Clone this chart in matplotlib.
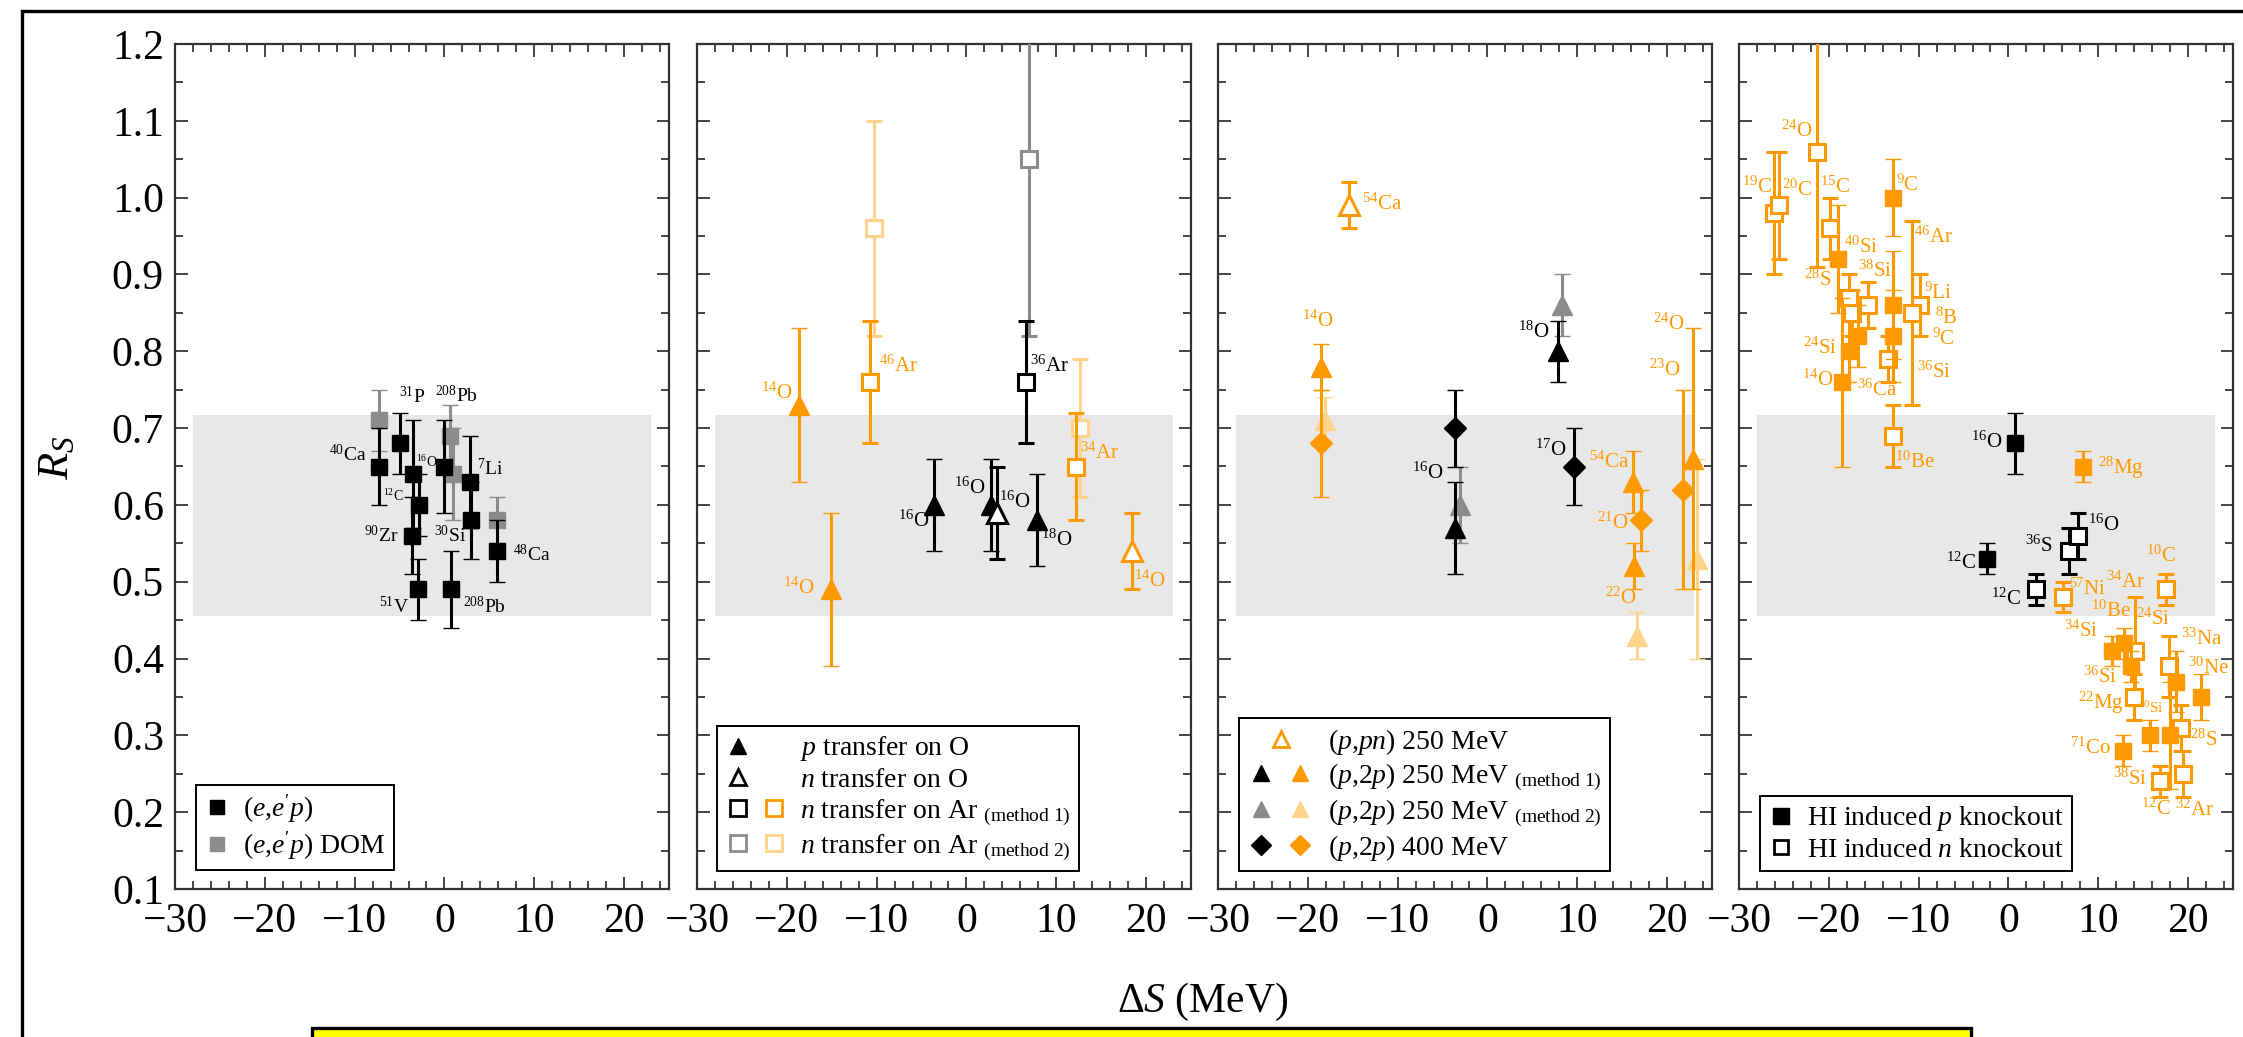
import matplotlib
matplotlib.use("Agg")
import matplotlib.pyplot as plt
from matplotlib.lines import Line2D
from matplotlib.legend_handler import HandlerTuple
from matplotlib.patches import Rectangle
from matplotlib.ticker import MultipleLocator, FormatStrFormatter

plt.rcParams['font.family'] = ['Liberation Serif', 'DejaVu Serif']
plt.rcParams['mathtext.fontset'] = 'custom'
plt.rcParams['mathtext.rm'] = 'Liberation Serif'
plt.rcParams['mathtext.it'] = 'Liberation Serif:italic'
plt.rcParams['mathtext.bf'] = 'Liberation Serif:bold'

BLACK = 'black'
ORANGE = '#FF9900'
LIGHT = '#FFD48A'
GRAY = '#8C8C8C'
BANDC = '#E8E8E8'

XLIM = (-30, 25)
YLIM = (0.1, 1.2)
BAND_X = (-28, 23)
BAND_Y = (0.455, 0.717)
XTICKS = [-30, -20, -10, 0, 10, 20]
YTICKS = [0.1, 0.2, 0.3, 0.4, 0.5, 0.6, 0.7, 0.8, 0.9, 1.0, 1.1, 1.2]

# ---------------- Panel 1 : (e,e'p) ----------------
P1_EEP_X = [-7.3, -5.0, -3.5, -2.8, -3.6, -3.0, -0.1, 0.7, 2.8, 3.0, 5.9]
P1_EEP_Y = [0.65, 0.68, 0.64, 0.60, 0.56, 0.49, 0.65, 0.49, 0.63, 0.58, 0.54]
P1_EEP_E = [0.05, 0.04, 0.07, 0.04, 0.05, 0.04, 0.06, 0.05, 0.06, 0.05, 0.04]
P1_DOM_X = [-7.3, 0.6, 1.0, 5.9]
P1_DOM_Y = [0.71, 0.69, 0.64, 0.58]
P1_DOM_E = [0.04, 0.04, 0.06, 0.03]
P1_LABELS = [("$^{31}$P", -3.6, 0.741, BLACK, 14),
             ("$^{208}$Pb", 1.3, 0.742, BLACK, 14),
             ("$^{40}$Ca", -10.8, 0.666, BLACK, 14),
             ("$^{16}$O", -2.0, 0.656, BLACK, 10),
             ("$^{7}$Li", 5.1, 0.648, BLACK, 14),
             ("$^{12}$C", -5.7, 0.612, BLACK, 10),
             ("$^{90}$Zr", -7.0, 0.560, BLACK, 14),
             ("$^{30}$Si", 0.65, 0.560, BLACK, 14),
             ("$^{48}$Ca", 9.7, 0.535, BLACK, 14),
             ("$^{51}$V", -5.6, 0.468, BLACK, 14),
             ("$^{208}$Pb", 4.5, 0.468, BLACK, 14)]

# ---------------- Panel 2 : transfer ----------------
P2_PO_X = [-3.6, 2.7, 7.8]
P2_PO_Y = [0.60, 0.60, 0.58]
P2_PO_E = [0.06, 0.06, 0.06]
P2_PO_UN_X = [-18.6, -15.1]
P2_PO_UN_Y = [0.73, 0.49]
P2_PO_UN_E = [0.10, 0.10]
P2_NO_X = [3.4]
P2_NO_Y = [0.59]
P2_NO_E = [0.06]
P2_NO_UN_X = [18.4]
P2_NO_UN_Y = [0.54]
P2_NO_UN_E = [0.05]
P2_AR1_X = [6.6]
P2_AR1_Y = [0.76]
P2_AR1_E = [0.08]
P2_AR1_UN_X = [-10.7, 12.2]
P2_AR1_UN_Y = [0.76, 0.65]
P2_AR1_UN_E = [0.08, 0.07]
P2_AR2_X = [7.0]
P2_AR2_Y = [1.05]
P2_AR2_E = [0.23]
P2_AR2_UN_X = [-10.3, 12.6]
P2_AR2_UN_Y = [0.96, 0.70]
P2_AR2_UN_E = [0.14, 0.09]
P2_LABELS = [("$^{14}$O", -21.1, 0.745, ORANGE, 15),
             ("$^{46}$Ar", -7.6, 0.781, ORANGE, 15),
             ("$^{36}$Ar", 9.3, 0.781, BLACK, 15),
             ("$^{16}$O", -5.9, 0.579, BLACK, 15),
             ("$^{16}$O", 0.37, 0.622, BLACK, 15),
             ("$^{16}$O", 5.4, 0.604, BLACK, 15),
             ("$^{18}$O", 10.0, 0.554, BLACK, 15),
             ("$^{34}$Ar", 14.8, 0.667, ORANGE, 15),
             ("$^{14}$O", -18.7, 0.492, ORANGE, 15),
             ("$^{14}$O", 20.4, 0.501, ORANGE, 15)]

# ---------------- Panel 3 : quasi-free ----------------
P3_PPN_X = [-15.4]
P3_PPN_Y = [0.99]
P3_PPN_E = [0.03]
P3_M1_X = [-3.6, 7.9]
P3_M1_Y = [0.57, 0.80]
P3_M1_E = [0.06, 0.04]
P3_M1_UN_X = [-18.5, 16.2, 16.3, 22.9]
P3_M1_UN_Y = [0.78, 0.63, 0.52, 0.66]
P3_M1_UN_E = [0.03, 0.04, 0.03, 0.17]
P3_M2_X = [-3.1, 8.3]
P3_M2_Y = [0.60, 0.86]
P3_M2_E = [0.05, 0.04]
P3_M2_UN_X = [-18.1, 16.7, 23.3]
P3_M2_UN_Y = [0.71, 0.43, 0.53]
P3_M2_UN_E = [0.03, 0.03, 0.13]
P3_400_X = [-3.6, 9.6]
P3_400_Y = [0.70, 0.65]
P3_400_E = [0.05, 0.05]
P3_400_UN_X = [-18.5, 17.1, 21.8]
P3_400_UN_Y = [0.68, 0.58, 0.62]
P3_400_UN_E = [0.07, 0.04, 0.13]
P3_LABELS = [("$^{54}$Ca", -11.7, 0.991, ORANGE, 15),
             ("$^{14}$O", -18.9, 0.839, ORANGE, 15),
             ("$^{18}$O", 5.2, 0.825, BLACK, 15),
             ("$^{16}$O", -6.6, 0.641, BLACK, 15),
             ("$^{17}$O", 7.1, 0.671, BLACK, 15),
             ("$^{54}$Ca", 13.5, 0.656, ORANGE, 15),
             ("$^{21}$O", 14.0, 0.576, ORANGE, 15),
             ("$^{22}$O", 14.8, 0.479, ORANGE, 15),
             ("$^{24}$O", 20.2, 0.835, ORANGE, 15),
             ("$^{23}$O", 19.7, 0.775, ORANGE, 15)]

# ---------------- Panel 4 : HI knockout ----------------
P4_P_X = [0.7, -2.4]
P4_P_Y = [0.68, 0.53]
P4_P_E = [0.04, 0.02]
P4_N_X = [3.05, 6.7, 7.7]
P4_N_Y = [0.49, 0.54, 0.56]
P4_N_E = [0.02, 0.03, 0.03]
P4_P_UN_X = [-12.9, -19.0, -12.9, -12.9, -16.8, -17.7, -18.5, 8.3, 11.5,
             12.9, 13.6, 18.6, 21.4, 15.8, 18.0, 12.7]
P4_P_UN_Y = [1.00, 0.92, 0.86, 0.82, 0.82, 0.80, 0.76, 0.65, 0.41,
             0.42, 0.39, 0.37, 0.35, 0.30, 0.30, 0.28]
P4_P_UN_E = [0.05, 0.07, 0.07, 0.06, 0.04, 0.04, 0.11, 0.02, 0.02,
             0.02, 0.02, 0.04, 0.03, 0.02, 0.07, 0.02]
P4_N_UN_X = [-21.3, -26.1, -25.5, -19.9, -17.8, -17.4, -15.6, -9.8, -10.7,
             -13.4, -12.8, 6.1, 17.5, 14.1, 17.9, 14.0, 19.2, 16.9, 19.4]
P4_N_UN_Y = [1.06, 0.98, 0.99, 0.96, 0.87, 0.85, 0.86, 0.86, 0.85,
             0.79, 0.69, 0.48, 0.49, 0.41, 0.39, 0.35, 0.31, 0.24, 0.25]
P4_N_UN_E = [0.15, 0.08, 0.07, 0.04, 0.03, 0.03, 0.03, 0.04, 0.12,
             0.03, 0.04, 0.02, 0.02, 0.07, 0.04, 0.03, 0.03, 0.02, 0.03]
P4_LABELS = [("$^{24}$O", -23.6, 1.087, ORANGE, 15),
             ("$^{19}$C", -28.0, 1.014, ORANGE, 15),
             ("$^{20}$C", -23.5, 1.010, ORANGE, 15),
             ("$^{15}$C", -19.3, 1.014, ORANGE, 15),
             ("$^{9}$C", -11.2, 1.016, ORANGE, 15),
             ("$^{46}$Ar", -8.3, 0.949, ORANGE, 15),
             ("$^{40}$Si", -16.4, 0.936, ORANGE, 15),
             ("$^{38}$Si", -14.8, 0.904, ORANGE, 15),
             ("$^{28}$S", -21.2, 0.893, ORANGE, 15),
             ("$^{9}$Li", -7.8, 0.876, ORANGE, 15),
             ("$^{8}$B", -6.9, 0.843, ORANGE, 15),
             ("$^{9}$C", -7.2, 0.816, ORANGE, 15),
             ("$^{24}$Si", -21.0, 0.804, ORANGE, 15),
             ("$^{36}$Si", -8.3, 0.773, ORANGE, 15),
             ("$^{14}$O", -21.2, 0.762, ORANGE, 15),
             ("$^{36}$Ca", -14.6, 0.749, ORANGE, 15),
             ("$^{10}$Be", -10.4, 0.656, ORANGE, 15),
             ("$^{16}$O", -2.4, 0.681, BLACK, 15),
             ("$^{28}$Mg", 12.5, 0.648, ORANGE, 15),
             ("$^{12}$C", -5.3, 0.524, BLACK, 15),
             ("$^{36}$S", 3.4, 0.546, BLACK, 15),
             ("$^{16}$O", 10.6, 0.574, BLACK, 15),
             ("$^{12}$C", -0.3, 0.477, BLACK, 15),
             ("$^{10}$C", 17.0, 0.533, ORANGE, 15),
             ("$^{57}$Ni", 8.8, 0.490, ORANGE, 15),
             ("$^{34}$Ar", 13.0, 0.499, ORANGE, 15),
             ("$^{10}$Be", 11.4, 0.462, ORANGE, 15),
             ("$^{24}$Si", 16.1, 0.451, ORANGE, 15),
             ("$^{34}$Si", 8.1, 0.436, ORANGE, 15),
             ("$^{33}$Na", 21.5, 0.425, ORANGE, 15),
             ("$^{30}$Ne", 22.3, 0.387, ORANGE, 15),
             ("$^{36}$Si", 10.2, 0.376, ORANGE, 15),
             ("$^{22}$Mg", 10.3, 0.342, ORANGE, 15),
             ("$^{40}$Si", 15.8, 0.335, ORANGE, 11),
             ("$^{28}$S", 21.8, 0.294, ORANGE, 15),
             ("$^{71}$Co", 9.1, 0.283, ORANGE, 15),
             ("$^{38}$Si", 13.5, 0.243, ORANGE, 15),
             ("$^{12}$C", 16.4, 0.204, ORANGE, 15),
             ("$^{32}$Ar", 20.7, 0.202, ORANGE, 15)]

# ---------------- figure ----------------
W, H = 2243, 1037
fig = plt.figure(figsize=(W / 100, H / 100), dpi=100)

PANEL_LEFT_PX = [175, 697, 1218, 1739]
PANEL_W_PX = 494
AX_BOTTOM = 1 - 889 / H
AX_HEIGHT = (889 - 44) / H

axes = []
for i, lp in enumerate(PANEL_LEFT_PX):
    ax = fig.add_axes([lp / W, AX_BOTTOM, PANEL_W_PX / W, AX_HEIGHT])
    ax.set_xlim(*XLIM)
    ax.set_ylim(*YLIM)
    ax.add_patch(Rectangle((BAND_X[0], BAND_Y[0]), BAND_X[1] - BAND_X[0],
                           BAND_Y[1] - BAND_Y[0], facecolor=BANDC,
                           edgecolor='none', zorder=0))
    ax.set_xticks(XTICKS)
    ax.set_yticks(YTICKS)
    ax.xaxis.set_minor_locator(MultipleLocator(2))
    ax.yaxis.set_minor_locator(MultipleLocator(0.05))
    ax.yaxis.set_major_formatter(FormatStrFormatter('%.1f'))
    ax.tick_params(which='both', direction='in', top=True, right=True,
                   color='#444444', width=1.4)
    ax.tick_params(which='major', length=9, labelsize=30)
    ax.tick_params(which='minor', length=5.5)
    ax.tick_params(axis='x', which='major', pad=10)
    ax.tick_params(axis='y', which='major', pad=8)
    for s in ax.spines.values():
        s.set_linewidth(1.6)
        s.set_color('#333333')
    if i > 0:
        ax.tick_params(labelleft=False)
    axes.append(ax)

MS_SQ = 12
MS_TRI = 14
MS_DIA = 11.7


def series(ax, x, y, e, marker, color, filled, ms, z=3):
    ax.errorbar(x, y, yerr=e, fmt=marker, ms=ms,
                mfc=color if filled else 'white', mec=color,
                mew=1 if filled else 2.2, ecolor=color, elinewidth=2.2,
                capsize=5.5, capthick=2.2, zorder=z)


def labels(ax, items):
    for txt, x, y, c, fs in items:
        ax.text(x, y, txt, color=c, fontsize=fs, ha='center', va='center',
                zorder=6)


LEG_KW = dict(loc='lower left', borderaxespad=0, fontsize=20, fancybox=False,
              framealpha=1, edgecolor='black', borderpad=0.3,
              labelspacing=0.15, handletextpad=0.5,
              handler_map={tuple: HandlerTuple(ndivide=None, pad=0.4)})


def style_leg(leg):
    leg.get_frame().set_linewidth(1.4)
    leg.set_zorder(10)


# Panel 1
ax = axes[0]
series(ax, P1_DOM_X, P1_DOM_Y, P1_DOM_E, 's', GRAY, True, MS_SQ, z=3)
series(ax, P1_EEP_X, P1_EEP_Y, P1_EEP_E, 's', BLACK, True, MS_SQ, z=4)
labels(ax, P1_LABELS)
ax.set_ylabel("$R_S$", fontsize=32)
ax.yaxis.set_label_coords(-0.198, 0.51)
hs = [Line2D([], [], marker='s', ls='none', color=BLACK, ms=10),
      Line2D([], [], marker='s', ls='none', color=GRAY, ms=10)]
leg = ax.legend(hs, ["($e$,$e'p$)", "($e$,$e'p$) DOM"],
                bbox_to_anchor=(0.042, 0.022), handlelength=0.9, **LEG_KW)
style_leg(leg)

# Panel 2
ax = axes[1]
series(ax, P2_AR2_X, P2_AR2_Y, P2_AR2_E, 's', GRAY, False, MS_SQ)
series(ax, P2_AR2_UN_X, P2_AR2_UN_Y, P2_AR2_UN_E, 's', LIGHT, False, MS_SQ)
series(ax, P2_AR1_X, P2_AR1_Y, P2_AR1_E, 's', BLACK, False, MS_SQ, z=4)
series(ax, P2_AR1_UN_X, P2_AR1_UN_Y, P2_AR1_UN_E, 's', ORANGE, False, MS_SQ, z=4)
series(ax, P2_PO_X, P2_PO_Y, P2_PO_E, '^', BLACK, True, MS_TRI, z=4)
series(ax, P2_PO_UN_X, P2_PO_UN_Y, P2_PO_UN_E, '^', ORANGE, True, MS_TRI, z=4)
series(ax, P2_NO_X, P2_NO_Y, P2_NO_E, '^', BLACK, False, MS_TRI, z=5)
series(ax, P2_NO_UN_X, P2_NO_UN_Y, P2_NO_UN_E, '^', ORANGE, False, MS_TRI, z=5)
labels(ax, P2_LABELS)
blank = Line2D([], [], ls='none')
hs = [(Line2D([], [], marker='^', ls='none', color=BLACK, ms=12), blank),
      (Line2D([], [], marker='^', ls='none', mfc='white', mec=BLACK, mew=2, ms=12), blank),
      (Line2D([], [], marker='s', ls='none', mfc='white', mec=BLACK, mew=2, ms=11),
       Line2D([], [], marker='s', ls='none', mfc='white', mec=ORANGE, mew=2, ms=11)),
      (Line2D([], [], marker='s', ls='none', mfc='white', mec=GRAY, mew=2, ms=11),
       Line2D([], [], marker='s', ls='none', mfc='white', mec=LIGHT, mew=2, ms=11))]
leg = ax.legend(hs, ["$p$ transfer on O", "$n$ transfer on O",
                     r"$n$ transfer on Ar ${}_{\rm (method\ 1)}$",
                     r"$n$ transfer on Ar ${}_{\rm (method\ 2)}$"],
                bbox_to_anchor=(0.040, 0.021), handlelength=2.2, **LEG_KW)
style_leg(leg)

# Panel 3
ax = axes[2]
series(ax, P3_M2_X, P3_M2_Y, P3_M2_E, '^', GRAY, True, MS_TRI)
series(ax, P3_M2_UN_X, P3_M2_UN_Y, P3_M2_UN_E, '^', LIGHT, True, MS_TRI)
series(ax, P3_M1_X, P3_M1_Y, P3_M1_E, '^', BLACK, True, MS_TRI, z=4)
series(ax, P3_M1_UN_X, P3_M1_UN_Y, P3_M1_UN_E, '^', ORANGE, True, MS_TRI, z=4)
series(ax, P3_400_X, P3_400_Y, P3_400_E, 'D', BLACK, True, MS_DIA, z=4)
series(ax, P3_400_UN_X, P3_400_UN_Y, P3_400_UN_E, 'D', ORANGE, True, MS_DIA, z=4)
series(ax, P3_PPN_X, P3_PPN_Y, P3_PPN_E, '^', ORANGE, False, MS_TRI, z=5)
labels(ax, P3_LABELS)
hs = [Line2D([], [], marker='^', ls='none', mfc='white', mec=ORANGE, mew=2, ms=12),
      (Line2D([], [], marker='^', ls='none', color=BLACK, ms=12),
       Line2D([], [], marker='^', ls='none', color=ORANGE, ms=12)),
      (Line2D([], [], marker='^', ls='none', color=GRAY, ms=12),
       Line2D([], [], marker='^', ls='none', color=LIGHT, ms=12)),
      (Line2D([], [], marker='D', ls='none', color=BLACK, ms=10),
       Line2D([], [], marker='D', ls='none', color=ORANGE, ms=10))]
leg = ax.legend(hs, ["($p$,$pn$) 250 MeV",
                     r"($p$,2$p$) 250 MeV ${}_{\rm (method\ 1)}$",
                     r"($p$,2$p$) 250 MeV ${}_{\rm (method\ 2)}$",
                     "($p$,2$p$) 400 MeV"],
                bbox_to_anchor=(0.0425, 0.021), handlelength=2.4, **LEG_KW)
style_leg(leg)

# Panel 4
ax = axes[3]
series(ax, P4_N_UN_X, P4_N_UN_Y, P4_N_UN_E, 's', ORANGE, False, MS_SQ)
series(ax, P4_P_UN_X, P4_P_UN_Y, P4_P_UN_E, 's', ORANGE, True, MS_SQ, z=4)
series(ax, P4_P_X, P4_P_Y, P4_P_E, 's', BLACK, True, MS_SQ, z=4)
series(ax, P4_N_X, P4_N_Y, P4_N_E, 's', BLACK, False, MS_SQ, z=4)
labels(ax, P4_LABELS)
hs = [Line2D([], [], marker='s', ls='none', color=BLACK, ms=11),
      Line2D([], [], marker='s', ls='none', mfc='white', mec=BLACK, mew=2, ms=10)]
leg = ax.legend(hs, ["HI induced $p$ knockout", "HI induced $n$ knockout"],
                bbox_to_anchor=(0.0425, 0.021), handlelength=0.9, **LEG_KW)
style_leg(leg)

# common x label
fig.text(1203 / W, 1 - 1002 / H, r"$\Delta S$ (MeV)", fontsize=30,
         ha='center', va='center')

# outer frame (top and left visible)
fig.add_artist(Rectangle((22 / W, -0.2), 1.2, 1 - 11 / H + 0.2,
                         transform=fig.transFigure, fill=False,
                         edgecolor='black', linewidth=2.4, clip_on=False))
# yellow box at the bottom
fig.add_artist(Rectangle((312 / W, -0.05), (1971 - 312) / W, 0.05 + (H - 1028) / H,
                         transform=fig.transFigure, facecolor='#FFFF00',
                         edgecolor='black', linewidth=2.4, clip_on=False))

fig.savefig("out.png", dpi=100)
